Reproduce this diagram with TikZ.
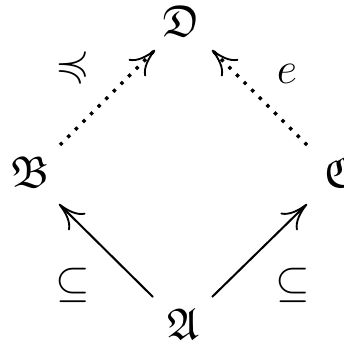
\documentclass[tikz,border=0pt]{standalone}
\usepackage{amssymb}
\usetikzlibrary{arrows.meta}
\begin{document}
\begin{tikzpicture}[x=0.27pt,y=-0.27pt,
  obj/.style={inner sep=0pt,font=\large},
  lbl/.style={inner sep=0pt,font=\large},
  tiphead/.style={-{To[length=7pt,width=6.5pt,line width=0.5pt]}},
  solidarr/.style={line width=0.55pt,tiphead},
  dotarr/.style={line width=0.9pt,dotted,tiphead}]
\useasboundingbox (0,0) rectangle (343,344);
\node[obj] (D) at (181,21) {$\mathfrak{D}$};
\node[obj] (B) at (30,172) {$\mathfrak{B}$};
\node[obj] (C) at (338,172) {$\mathfrak{C}$};
\node[obj] (A) at (183,324) {$\mathfrak{A}$};
\coordinate (a1) at (153,297);
\coordinate (b1) at (59,204);
\coordinate (a2) at (212,297);
\coordinate (c1) at (307,204);
\coordinate (b2) at (60,145);
\coordinate (d1) at (155,50);
\coordinate (c2) at (307,145);
\coordinate (d2) at (212,50);
\draw[solidarr] (a1) -- (b1);
\draw[solidarr] (a2) -- (c1);
\draw[dotarr] (b2) -- (d1);
\draw[dotarr] (c2) -- (d2);
\node[lbl] (l1) at (73,66) {$\preccurlyeq$};
\node[lbl] (l2) at (287,74) {$e$};
\node[lbl] (l3) at (73,285) {$\subseteq$};
\node[lbl] (l4) at (293,285) {$\subseteq$};
\end{tikzpicture}
\end{document}
